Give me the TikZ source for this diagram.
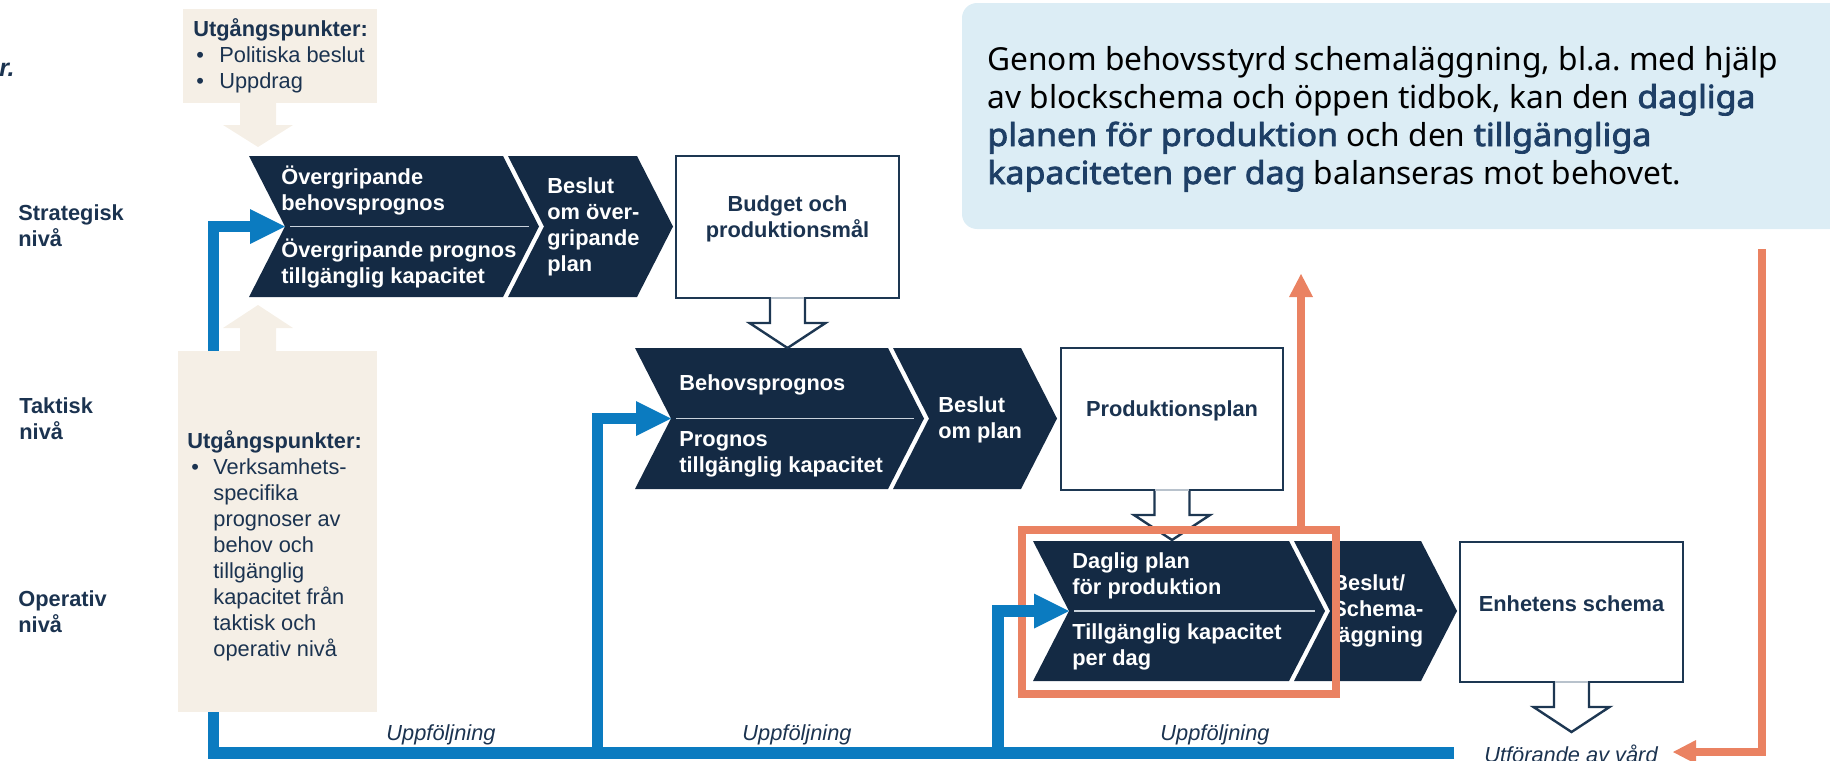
\documentclass[tikz,border=0pt]{standalone}
\usepackage{fontspec}
\setmainfont{Liberation Sans}
\newfontfamily\notofont{Noto Sans}[BoldFont={Noto Sans}, BoldFeatures={FakeBold=2.5, FakeStretch=1.07}]
\usetikzlibrary{arrows.meta,calc,fit}
\frenchspacing

\definecolor{navy}{HTML}{142A44}
\definecolor{navyline}{HTML}{1D3752}
\definecolor{labeltext}{HTML}{1B3350}
\definecolor{beige}{HTML}{F5EFE6}
\definecolor{flowblue}{HTML}{0B7BC0}
\definecolor{salmon}{HTML}{EA8262}
\definecolor{notebg}{HTML}{DCEDF5}
\definecolor{noteemph}{HTML}{1E3F66}
\definecolor{divider}{HTML}{C9D2DC}
\definecolor{seam}{HTML}{B8C2CC}

\newcommand\dfont{\fontsize{10.9pt}{13pt}\selectfont}
\newcommand\notetextfont{\notofont\fontsize{15.85pt}{19pt}\selectfont}
\newcommand\hl[1]{\textbf{\color{noteemph}#1}}
\newcommand\bulA{\hspace*{1.5pt}\makebox[11.5pt][l]{•}}
\newcommand\bulB{\hspace*{2pt}\makebox[11pt][l]{•}}
\newcommand\indB{\hspace*{13pt}}

\begin{document}
\begin{tikzpicture}[x=0.5pt,y=-0.5pt,
  chev/.style={fill=navy},
  divline/.style={draw=divider, line width=0.6pt},
  chevtext/.style={anchor=west, inner sep=0pt, align=left, text=white, font=\dfont\bfseries},
  lvl/.style={anchor=west, inner sep=0pt, align=left, text=labeltext, font=\dfont\bfseries},
  plainbox/.style={draw=navyline, line width=1.2pt, fill=white, inner sep=0pt, outer sep=0pt,
    align=center, text=labeltext, font=\dfont\bfseries},
  beigebox/.style={fill=beige, inner sep=0pt, outer sep=0pt},
  beigetext/.style={anchor=west, inner sep=0pt, align=left, text=labeltext, font=\dfont},
  notebox/.style={fill=notebg, rounded corners=7.5pt, inner sep=0pt, outer sep=0pt},
  notetext/.style={anchor=base west, inner sep=0pt, text=black, font=\notetextfont},
  follow/.style={anchor=base, inner sep=0pt, text=labeltext, font=\dfont\itshape},
  hollow/.style={draw=navyline, line width=1.2pt, fill=white, line join=miter},
  seamline/.style={draw=seam, line width=1.3pt},
  bluearrow/.style={draw=flowblue, line width=5.75pt, line join=miter,
    -{Triangle[length=17.5pt,width=17.5pt,line width=0pt]}},
  salmonarrow/.style={draw=salmon, line width=3.75pt, line join=miter,
    -{Triangle[length=11.5pt,width=12pt,line width=0pt]}},
  focusframe/.style={draw=salmon, line width=4pt, inner sep=0pt, outer sep=0pt}
]
\useasboundingbox (0,0) rectangle (1830,760);

% explanatory note, upper right
\node[notebox, fit={(962,3) (1880,229)}] (note) {};
\node[notetext] (n1) at (987,70) {Genom behovsstyrd schemaläggning, bl.a.\ med hjälp};
\node[notetext] (n2) at (987,108) {av blockschema och öppen tidbok, kan den \hl{dagliga}};
\node[notetext] (n3) at (987,146) {\hl{planen för produktion} och den \hl{tillgängliga}};
\node[notetext] (n4) at (987,184) {\hl{kapaciteten per dag} balanseras mot behovet.};

% cut-off heading fragment
\node[anchor=base east, inner sep=0pt, text=labeltext,
  font=\fontsize{12.5pt}{15pt}\selectfont\bfseries\itshape] (frag) at (15,76) {r.};

% level labels
\node[lvl] (lv1) at (18,226) {Strategisk\\nivå};
\node[lvl] (lv2) at (19,419) {Taktisk\\nivå};
\node[lvl] (lv3) at (18,611.5) {Operativ\\nivå};

% strategic chevrons
\fill[chev] (249,156) -- (503,156) -- (539,226.5) -- (503,297) -- (249,297) -- (285,226.5) -- cycle;
\fill[chev] (508,156) -- (637,156) -- (673,226.5) -- (637,297) -- (508,297) -- (544,226.5) -- cycle;
\draw[divline] (290,226.5) -- (529,226.5);
\coordinate (s-in) at (285,226.5);

% tactical chevrons
\fill[chev] (635,348) -- (888,348) -- (924,418.5) -- (888,489) -- (635,489) -- (671,418.5) -- cycle;
\fill[chev] (893,348) -- (1021,348) -- (1057,418.5) -- (1021,489) -- (893,489) -- (929,418.5) -- cycle;
\draw[divline] (676,418.5) -- (914,418.5);
\coordinate (t-in) at (671,418.5);

% operative chevrons
\fill[chev] (1033,541) -- (1289,541) -- (1325,611) -- (1289,681) -- (1033,681) -- (1069,611) -- cycle;
\fill[chev] (1294,541) -- (1421,541) -- (1457,611) -- (1421,681) -- (1294,681) -- (1330,611) -- cycle;
\draw[divline] (1074,611) -- (1315,611);
\coordinate (o-in) at (1069,611);

% chevron texts
\node[chevtext] (s1) at (281,190) {Övergripande\\behovsprognos};
\node[chevtext] (s2) at (281,263.5) {Övergripande prognos\\tillgänglig kapacitet};
\node[chevtext] (s3) at (547,226.5) {Beslut\\om över-\\gripande\\plan};
\node[chevtext] (t1) at (679,385) {Behovsprognos};
\node[chevtext] (t2) at (679,454) {Prognos\\tillgänglig kapacitet};
\node[chevtext] (t3) at (938,419.5) {Beslut\\om plan};
\node[chevtext] (o1) at (1072,576) {Daglig plan\\för produktion};
\node[chevtext] (o2) at (1072,647) {Tillgänglig kapacitet\\per dag};
\node[chevtext] (o3) at (1332,610.5) {Beslut/\\Schema-\\läggning};

% result boxes
\node[plainbox, fit={(676,156) (899,298)}] (budget) {Budget och\\produktionsmål};
\node[plainbox, fit={(1061,348) (1283,490)}] (prodplan) {Produktionsplan};
\node[plainbox, fit={(1460,542) (1683,682)}] (schema) {Enhetens schema};

% hollow block arrows below the result boxes
\foreach \b in {budget,prodplan,schema}{
  \filldraw[hollow] ($(\b.south)+(-17.5,0)$) -- ++(0,25) -- ++(-20.5,0) -- ++(38,25)
    -- ++(38,-25) -- ++(-20.5,0) -- ++(0,-25);
  \draw[seamline] ($(\b.south)+(-16.9,0)$) -- ($(\b.south)+(16.9,0)$);
}

% focus frame around the daily plan
\node[focusframe, fit={(1022,530) (1336,694)}] (focus) {};

% salmon feedback arrows
\coordinate (fup) at ($(focus.north west)+(279,0)$);
\coordinate (fuptip) at (1301,274);
\draw[salmonarrow] (fup) -- (fuptip);
\coordinate (notedrop) at (1762,249);
\coordinate (caretip) at (1673,752);
\draw[salmonarrow] (notedrop) |- (caretip);

% follow-up loops
\coordinate (trunkend) at (1454,753);
\coordinate (trunkcorner) at (213.5,226.5);
\draw[bluearrow] (trunkend) -| (trunkcorner) -- (s-in);
\coordinate (rise2) at (597.5,753);
\draw[bluearrow] (rise2) |- (t-in);
\coordinate (rise3) at (998,753);
\draw[bluearrow] (rise3) |- (o-in);

% starting points
\node[beigebox, fit={(183,9) (377,103)}] (ubox1) {};
\node[beigebox, fit={(178,351) (377,712)}] (ubox2) {};
\fill[beige] ($(ubox1.south west)+(57,0)$) -- ++(0,22) -- ++(-17,0) -- ++(35,22)
  -- ++(35,-22) -- ++(-17,0) -- ++(0,-22) -- cycle;
\fill[beige] ($(ubox2.north west)+(62,0)$) -- ++(0,-23) -- ++(-17,0) -- ++(35,-23)
  -- ++(35,23) -- ++(-17,0) -- ++(0,23) -- cycle;
\node[beigetext] (u1) at (193,55.5) {\textbf{Utgångspunkter:}\\\bulA Politiska beslut\\\bulA Uppdrag};
\node[beigetext] (u2) at (187,546) {\textbf{Utgångspunkter:}\\\bulB Verksamhets-\\\indB specifika\\\indB prognoser av\\\indB behov och\\\indB tillgänglig\\\indB kapacitet från\\\indB taktisk och\\\indB operativ nivå};

% flow labels
\node[follow] (f1) at (441,740) {Uppföljning};
\node[follow] (f2) at (797,740) {Uppföljning};
\node[follow] (f3) at (1215,740) {Uppföljning};
\node[follow] (care) at (1571,762) {Utförande av vård};

\end{tikzpicture}
\end{document}
